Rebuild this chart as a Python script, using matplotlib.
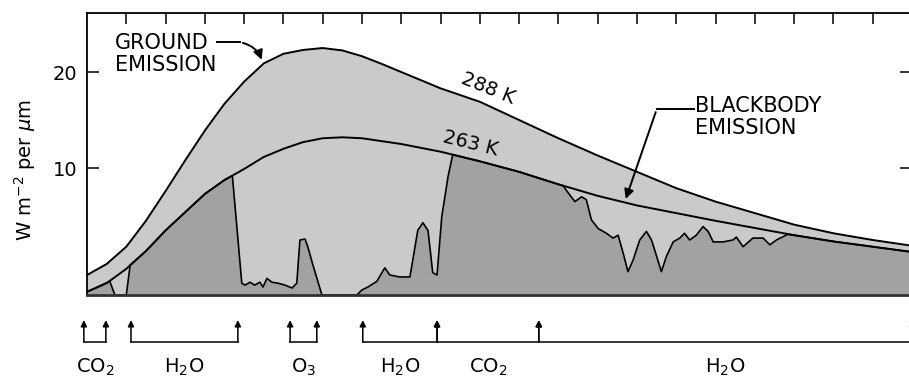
import matplotlib.pyplot as plt

# wavelength grid (um) for the two blackbody curves
WAVELENGTH = [4, 4.5, 5, 5.5, 6, 6.5, 7, 7.5, 8, 8.5, 9, 9.5, 10, 10.5, 11, 11.5,
              12, 12.5, 13, 13.5, 14, 15, 16, 17, 18, 19, 20, 21, 22, 23, 24, 25]
GROUND_288K = [-1.15, 0.0, 1.8, 4.5, 7.6, 10.8, 13.9, 16.7, 19.0, 20.9, 21.9, 22.3,
               22.5, 22.25, 21.65, 20.85, 20.0, 19.15, 18.3, 17.6, 16.9, 15.0, 13.1, 11.3,
               9.6, 7.9, 6.5, 5.3, 4.1, 3.2, 2.5, 1.9]
BLACKBODY_263K = [-2.9, -2.0, -0.5, 1.35, 3.5, 5.4, 7.3, 8.75, 9.9, 11.15, 12.0, 12.7,
                  13.1, 13.2, 13.1, 12.8, 12.5, 12.1, 11.7, 11.2, 10.7, 9.6, 8.3, 7.1,
                  6.1, 5.3, 4.5, 3.75, 3.0, 2.35, 1.8, 1.25]

# emission actually leaving the top of the atmosphere
SAT_WAVELENGTH = [4.0, 4.58, 4.71, 5.0, 5.1, 5.5, 6.0, 6.5, 7.0, 7.5, 7.7, 7.94, 8.02,
                  8.15, 8.27, 8.4, 8.48, 8.58, 8.71, 8.86, 9.04, 9.22, 9.34, 9.42, 9.55,
                  9.62, 9.75, 9.98, 10.87, 11.0, 11.15, 11.38, 11.58, 11.71, 11.96, 12.22,
                  12.42, 12.55, 12.68, 12.8, 12.91, 13.03, 13.19, 13.31, 13.5, 14, 15, 16,
                  16.12, 16.25, 16.42, 16.59, 16.71, 16.84, 17.01, 17.22, 17.39, 17.52,
                  17.65, 17.77, 17.9, 18.07, 18.24, 18.37, 18.5, 18.62, 18.75, 18.92,
                  19.09, 19.21, 19.34, 19.51, 19.68, 19.81, 19.94, 20.19, 20.44, 20.53,
                  20.7, 20.95, 21.21, 21.38, 21.55, 21.72, 21.84, 22, 23, 24, 25]
SAT_EMISSION = [-2.9, -1.8, -3.23, -3.23, -0.1, 1.35, 3.5, 5.4, 7.3, 8.75, 9.2, -2.0, -2.2,
                -1.9, -2.2, -1.9, -2.4, -1.5, -1.9, -2.0, -2.2, -2.5, -2.0, 2.5, 2.6,
                1.8, -0.1, -3.23, -3.23, -2.7, -2.4, -1.8, -0.4, -1.15, -1.35, -1.35,
                3.5, 4.3, 3.5, -0.9, -1.15, 4.9, 9.1, 11.4, 11.2, 10.7, 9.6, 8.3,
                8.15, 7.4, 6.5, 7.0, 6.7, 4.6, 3.7, 3.2, 2.7, 3.0,
                1.1, -0.8, 0.4, 2.5, 3.4, 2.5, 0.8, -0.8, 0.8, 2.3,
                2.7, 3.2, 2.5, 3.0, 3.9, 3.4, 2.3, 2.3, 2.5, 2.8,
                1.8, 2.7, 2.7, 2.0, 2.5, 2.85, 3.1, 3.0, 2.35, 1.8, 1.25]

BASELINE = -3.23
Y_TICKS = [10, 20]
TOP_TICKS = list(range(5, 25))

# absorption bands marked under the plot
BAND_GASES = ["CO$_2$", "H$_2$O", "O$_3$", "H$_2$O", "CO$_2$", "H$_2$O"]
BAND_START = [3.92, 5.12, 9.17, 11.02, 12.91, 15.5]
BAND_END = [4.48, 7.84, 9.85, 12.91, 15.5, 25.0]

LIGHT = "#cacaca"
DARK = "#a2a2a2"

fig = plt.figure(figsize=(9.09, 3.78), dpi=100)
ax = fig.add_axes([87 / 909, 83 / 378, 825 / 909, 282 / 378])

ax.fill_between(WAVELENGTH, BASELINE, GROUND_288K, color=LIGHT, lw=0)
ax.fill_between(SAT_WAVELENGTH, BASELINE, SAT_EMISSION, color=DARK, lw=0)
ax.plot(WAVELENGTH, GROUND_288K, color="black", lw=1.4)
ax.plot(WAVELENGTH, BLACKBODY_263K, color="black", lw=1.4)
ax.plot(SAT_WAVELENGTH, SAT_EMISSION, color="black", lw=1.2)

ax.set_xlim(4, 25)
ax.set_ylim(BASELINE, 26.15)
ax.set_yticks(Y_TICKS)
ax.set_xticks(TOP_TICKS)
ax.tick_params(axis="x", top=True, bottom=False, labelbottom=False, direction="in",
               length=8, width=1.1)
ax.tick_params(axis="y", left=True, right=True, direction="in", length=8.5, width=1.1,
               labelsize=14, pad=7)
for side in ["left", "top", "right"]:
    ax.spines[side].set_linewidth(1.3)
ax.spines["bottom"].set_color("#333333")
ax.spines["bottom"].set_linewidth(2)

fig.text(25 / 909, 1 - 170 / 378, r"W m$^{-2}$ per $\mu$m", rotation=90,
         ha="center", va="center", fontsize=14)

# curve labels
ax.text(14.2, 18.3, "288 K", rotation=-22, ha="center", va="center", fontsize=14)
ax.text(13.75, 12.6, "263 K", rotation=-14, ha="center", va="center", fontsize=14)

ax.text(4.71, 21.9, "GROUND\nEMISSION", ha="left", va="center", fontsize=15,
        linespacing=1.1)
ax.plot([7.3, 7.9], [23.1, 23.1], color="black", lw=1.4)
ax.annotate("", xy=(8.47, 21.0), xytext=(7.9, 23.1),
            arrowprops=dict(arrowstyle="-|>", color="black", lw=1.4,
                            connectionstyle="arc3,rad=-0.3", mutation_scale=14))

ax.text(19.47, 15.3, "BLACKBODY\nEMISSION", ha="left", va="center", fontsize=15,
        linespacing=1.1)
ax.plot([18.5, 19.45], [16.1, 16.1], color="black", lw=1.4)
ax.annotate("", xy=(17.69, 6.5), xytext=(18.5, 16.1),
            arrowprops=dict(arrowstyle="-|>", color="black", lw=1.4, mutation_scale=14))

# band brackets below the axis
tr = ax.get_xaxis_transform()
for start, end, gas in zip(BAND_START, BAND_END, BAND_GASES):
    ax.plot([start, end], [-0.167, -0.167], color="black", lw=1.1, transform=tr,
            clip_on=False)
    for edge in (start, end):
        ax.annotate("", xy=(edge, -0.089), xycoords=tr, xytext=(edge, -0.167),
                    textcoords=tr, annotation_clip=False,
                    arrowprops=dict(arrowstyle="-|>", color="black", lw=1.1,
                                    mutation_scale=9, shrinkA=0, shrinkB=0))
    ax.text((start + end) / 2, -0.277, gas, transform=tr, ha="center", va="baseline",
            fontsize=14)

fig.savefig("out.png", dpi=100)
